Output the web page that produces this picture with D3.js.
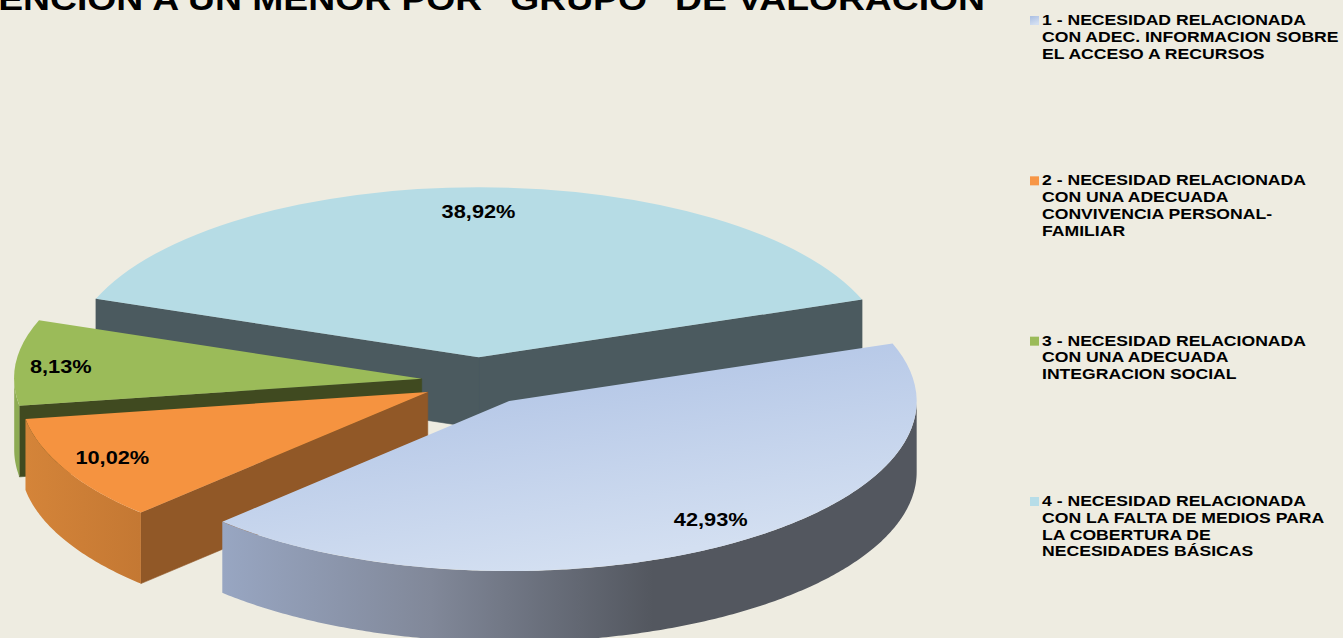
<!DOCTYPE html>
<html>
<head>
<meta charset="utf-8">
<script src="https://cdn.jsdelivr.net/npm/d3@7"></script>
<style>
  html, body { margin: 0; padding: 0; background: #eeece1; overflow: hidden; }
  text { font-family: "Liberation Sans", Arial, sans-serif; font-weight: bold; fill: #000; }
</style>
</head>
<body>
<svg id="chart" width="1343" height="638"></svg>
<script>
// Chart data
const categories = ["1", "2", "3", "4"];
const values = [42.93, 10.02, 8.13, 38.92];
const valueLabels = ["42,93%", "10,02%", "8,13%", "38,92%"];
const legendLines = [
  ["1 - NECESIDAD RELACIONADA", "CON ADEC. INFORMACION SOBRE", "EL ACCESO A RECURSOS"],
  ["2 - NECESIDAD RELACIONADA", "CON UNA ADECUADA", "CONVIVENCIA PERSONAL-", "FAMILIAR"],
  ["3 - NECESIDAD RELACIONADA", "CON UNA ADECUADA", "INTEGRACION SOCIAL"],
  ["4 - NECESIDAD RELACIONADA", "CON LA FALTA DE MEDIOS PARA", "LA COBERTURA DE", "NECESIDADES BÁSICAS"]
];
const title = "ATENCION A UN MENOR POR  \"GRUPO\"  DE VALORACION";

// Pie geometry
const cx = 478.5, cy = 381, rx = 407.5, ry = 170, depth = 71;
const explode = 0.14;
const labelRadius = 0.865;
const labelShift = [[12, -6], [-2, -2], [-10, 2], [-1, 1]];
const stretch = 1.21; // the picture is a bit wide, text too
const start = 70.2 * Math.PI / 180;

const topFill = ["url(#top1)", "#f59340", "#9bbb59", "#b6dce5"];
const faceFill = ["#4b5a5f", "#915827", "#404a20", "#4b5a5f"];
const wallFill = ["url(#wall1)", "url(#wall2)", "#8dab53", "#4b5a5f"];
const swatchFill = ["url(#top1)", "#f79646", "#9bbb59", "#b7dde8"];

const svg = d3.select("#chart");

// Gradients
const defs = svg.append("defs");
function addGradient(id, x2, y2, stops) {
  const g = defs.append("linearGradient").attr("id", id)
    .attr("x1", 0).attr("y1", 0).attr("x2", x2).attr("y2", y2);
  stops.forEach(s => g.append("stop").attr("offset", s[0]).attr("stop-color", s[1]));
}
addGradient("top1", 0.45, 1, [[0.1, "#adc1e4"], [1, "#d3dff1"]]);
addGradient("wall1", 1, 0, [[0, "#98a6c2"], [0.3, "#818899"], [0.62, "#53575f"], [1, "#53575f"]]);
addGradient("wall2", 1, 0, [[0, "#d48439"], [1, "#c47833"]]);

// Title, cut off by the top of the picture
svg.append("text")
  .attr("transform", "translate(985,9.5) scale(1.203,1)")
  .attr("text-anchor", "end")
  .attr("font-size", 31)
  .text(title);

const pie = d3.pie().sort(null).value(d => d)
  .startAngle(start).endAngle(start + 2 * Math.PI);
const slices = pie(values);

const arc = d3.arc().innerRadius(0).outerRadius(rx);
const line = d3.line();

function slicePoint(d, angle, r) {
  const mid = (d.startAngle + d.endAngle) / 2;
  const ax = cx + explode * rx * Math.sin(mid);
  const ay = cy - explode * ry * Math.cos(mid);
  return [ax + r * rx * Math.sin(angle), ay - r * ry * Math.cos(angle)];
}

function faceShape(d, angle) {
  const apex = slicePoint(d, 0, 0);
  const edge = slicePoint(d, angle, 1);
  return line([apex, edge, [edge[0], edge[1] + depth], [apex[0], apex[1] + depth]]) + "Z";
}

function wallShape(d) {
  // only the front half of the rim can be seen
  const a = Math.max(d.startAngle, Math.PI / 2);
  const b = Math.min(d.endAngle, 3 * Math.PI / 2);
  if (a >= b) return null;
  const steps = d3.range(a, b, 0.01).concat([b]);
  const upper = steps.map(t => slicePoint(d, t, 1));
  const lower = upper.slice().reverse().map(p => [p[0], p[1] + depth]);
  return line(upper.concat(lower)) + "Z";
}

// Back to front
const order = [3, 2, 1, 0];
order.forEach(i => {
  const d = slices[i];
  const g = svg.append("g").attr("class", "slice-" + categories[i]);
  // one path for both cut faces, two paths leave a seam at the apex
  let faces = "";
  if (Math.sin(d.startAngle) < 0) faces += faceShape(d, d.startAngle);
  if (Math.sin(d.endAngle) > 0) faces += faceShape(d, d.endAngle);
  if (faces) {
    g.append("path").attr("d", faces)
      .attr("fill", faceFill[i]).attr("stroke", faceFill[i]).attr("stroke-width", 0.6);
  }
  const wall = wallShape(d);
  if (wall) g.append("path").attr("d", wall).attr("fill", wallFill[i]);
  const apex = slicePoint(d, 0, 0);
  g.append("path")
    .attr("d", arc(d))
    .attr("transform", "translate(" + apex[0] + "," + apex[1] + ") scale(1," + (ry / rx) + ")")
    .attr("fill", topFill[i]);
});

// Value labels
slices.forEach((d, i) => {
  const p = slicePoint(d, (d.startAngle + d.endAngle) / 2, labelRadius);
  svg.append("text")
    .attr("transform", "translate(" + (p[0] + labelShift[i][0]) + "," + (p[1] + labelShift[i][1] + 6.5) + ") scale(" + stretch + ",1)")
    .attr("text-anchor", "middle")
    .attr("font-size", 18)
    .text(valueLabels[i]);
});

// Legend
const legendY = d3.scalePoint().domain(categories).range([25, 506]);
const lineStep = 16.8;
categories.forEach((c, i) => {
  const y = legendY(c);
  svg.append("rect")
    .attr("x", 1030).attr("y", y - 9).attr("width", 9).attr("height", 9)
    .attr("fill", swatchFill[i]);
  legendLines[i].forEach((t, k) => {
    svg.append("text")
      .attr("transform", "translate(1042," + (y + k * lineStep) + ") scale(1.24,1)")
      .attr("font-size", 14.2)
      .text(t);
  });
});
</script>
</body>
</html>
